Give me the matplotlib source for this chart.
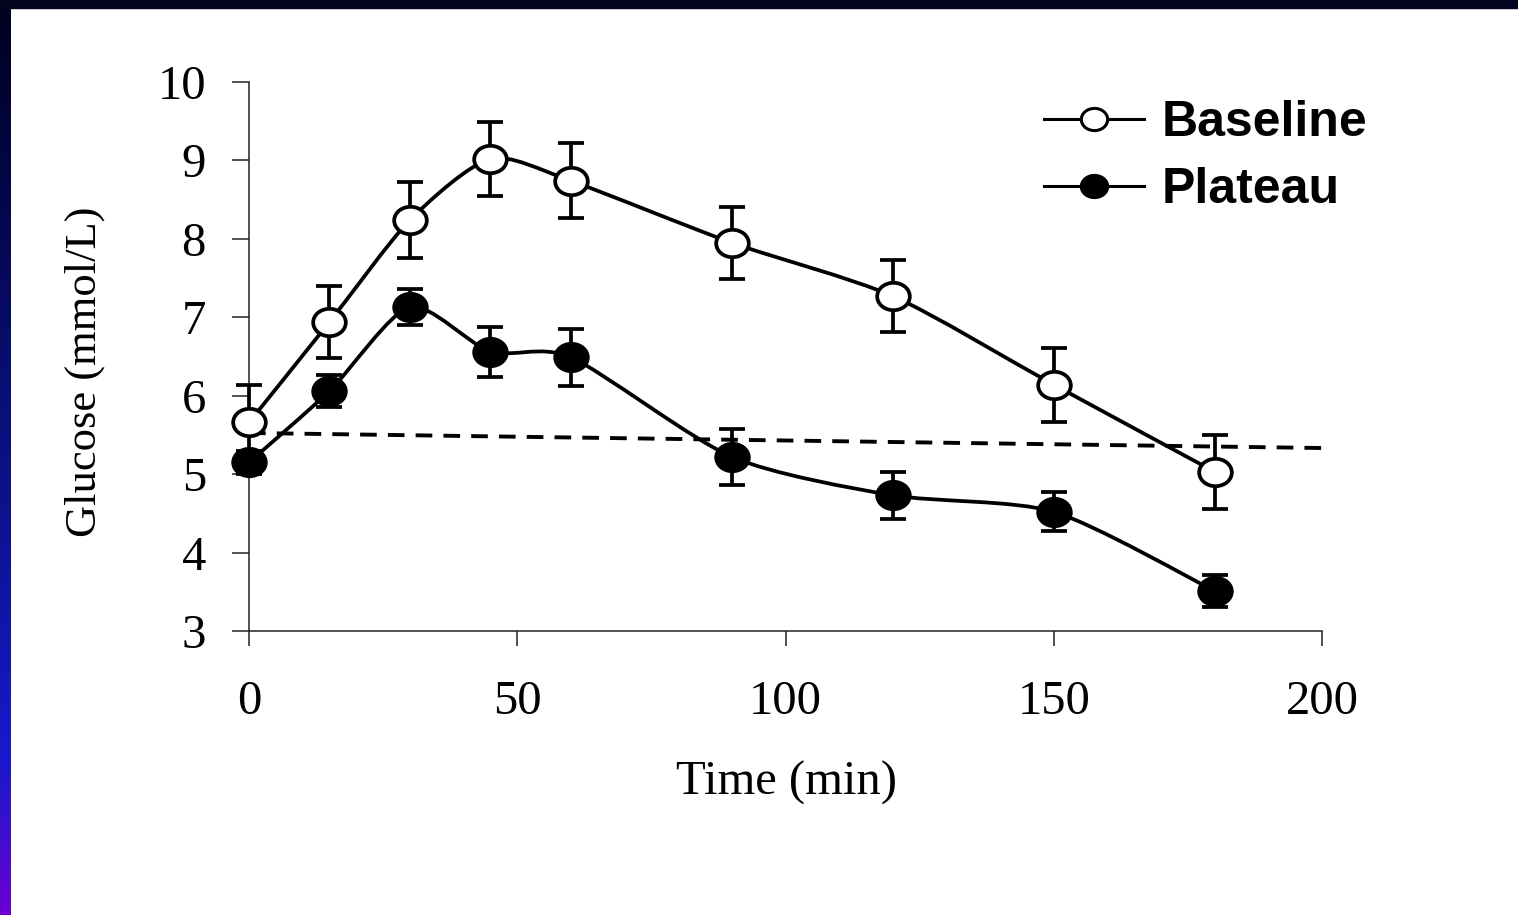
import numpy as np
import matplotlib
matplotlib.use("Agg")
import matplotlib.pyplot as plt
from matplotlib.path import Path
from matplotlib.patches import PathPatch, Rectangle
from matplotlib.markers import MarkerStyle
from matplotlib.lines import Line2D
from matplotlib.colors import LinearSegmentedColormap

# ---- data ----
time_min = [0, 15, 30, 45, 60, 90, 120, 150, 180]
baseline = [5.66, 6.94, 8.24, 9.02, 8.74, 7.95, 7.27, 6.14, 5.03]
baseline_err = [0.48, 0.46, 0.48, 0.47, 0.48, 0.46, 0.46, 0.47, 0.47]
plateau = [5.15, 6.06, 7.13, 6.56, 6.49, 5.22, 4.73, 4.52, 3.51]
plateau_err = [0.15, 0.20, 0.23, 0.32, 0.36, 0.36, 0.30, 0.25, 0.21]
ref_x = [0, 200]
ref_y = [5.525, 5.333]
x_ticks = [0, 50, 100, 150, 200]
y_ticks = [3, 4, 5, 6, 7, 8, 9, 10]
series_names = ["Baseline", "Plateau"]

plt.rcParams['lines.scale_dashes'] = False

W, H = 1518, 915
fig = plt.figure(figsize=(W / 100, H / 100), dpi=100)
fig.patch.set_facecolor("white")

# decorative slide border
gax = fig.add_axes([0, 0, 11 / W, 1])
cmap = LinearSegmentedColormap.from_list(
    "slide", [(0.0, (0.0, 0.0, 0.12)), (0.22, (0.01, 0.03, 0.30)),
              (0.55, (0.05, 0.07, 0.55)), (0.82, (0.08, 0.10, 0.80)),
              (0.875, (0.17, 0.08, 0.80)), (1.0, (0.42, 0.0, 0.83))])
gax.imshow(np.linspace(0, 1, 256)[:, None], aspect="auto", cmap=cmap)
gax.axis("off")
fig.patches.append(Rectangle((0, 1 - 8 / H), 1, 8 / H, transform=fig.transFigure,
                             color="#02041f", zorder=5))

ax = fig.add_axes([249 / W, 1 - 631 / H, 1073 / W, 549 / H])
ax.set_xlim(0, 200)
ax.set_ylim(3, 10)
for s in ["top", "right"]:
    ax.spines[s].set_visible(False)
for s in ["left", "bottom"]:
    ax.spines[s].set_linewidth(1.1)
    ax.spines[s].set_color("#222222")

serif = "Liberation Serif"
ax.set_xticks(x_ticks)
ax.set_yticks(y_ticks)
ax.set_xticklabels([str(v) for v in x_ticks], fontfamily=serif, fontsize=35)
ax.set_yticklabels([str(v) for v in y_ticks], fontfamily=serif, fontsize=35)
ax.tick_params(axis="x", direction="out", length=10.5, width=1.1, pad=25, color="#222222")
ax.tick_params(axis="y", direction="out", length=12, width=1.1, pad=19, color="#222222")

ax.set_xlabel("Time (min)", fontfamily=serif, fontsize=35)
ax.xaxis.set_label_coords(0.501, -0.236)
ax.set_ylabel("Glucose (mmol/L)", fontfamily=serif, fontsize=32)
ax.yaxis.set_label_coords(-0.134, 0.472)


def smooth_path(xs, ys, k=8.0):
    pts = np.column_stack([xs, ys]).astype(float)
    n = len(pts)
    verts = [pts[0]]
    codes = [Path.MOVETO]
    for i in range(n - 1):
        p0 = pts[i - 1] if i > 0 else pts[i]
        p1 = pts[i]
        p2 = pts[i + 1]
        p3 = pts[i + 2] if i + 2 < n else pts[i + 1]
        c1 = p1 + (p2 - p0) / k
        c2 = p2 - (p3 - p1) / k
        verts += [c1, c2, p2]
        codes += [Path.CURVE4] * 3
    return Path(verts, codes)


circ = Path.unit_circle()
ell = Path(circ.vertices * np.array([1.0, 0.84]), circ.codes)
ell_marker = MarkerStyle(ell)

lw = 2.7
ms = 23.5
for ys, errs, face in [(baseline, baseline_err, "white"), (plateau, plateau_err, "black")]:
    ax.errorbar(time_min, ys, yerr=errs, fmt="none", ecolor="black", elinewidth=lw,
                capsize=9.4, capthick=lw, zorder=3, clip_on=False)
    ax.add_patch(PathPatch(smooth_path(time_min, ys), fill=False, lw=lw,
                           edgecolor="black", zorder=2, clip_on=False))
    ax.plot(time_min, ys, linestyle="none", marker=ell_marker, markersize=ms,
            markerfacecolor=face, markeredgecolor="black", markeredgewidth=lw,
            zorder=4, clip_on=False)

ax.plot(ref_x, ref_y, color="black", lw=2.8, linestyle="--", dashes=(12, 8), zorder=1)

handles = [Line2D([], [], color="black", lw=2.2, marker=ell_marker, markersize=19,
                  markerfacecolor=f, markeredgecolor="black", markeredgewidth=2.2)
           for f in ["white", "black"]]
leg = ax.legend(handles, series_names, loc="upper left",
                bbox_to_anchor=(1044 / W, 1 - 100 / H), bbox_transform=fig.transFigure,
                frameon=False, handlelength=2.0, handletextpad=0.35, labelspacing=0.42,
                prop={"family": "Liberation Sans", "weight": "bold", "size": 36},
                borderpad=0, borderaxespad=0)

fig.savefig("out.png", dpi=100, facecolor="white")
